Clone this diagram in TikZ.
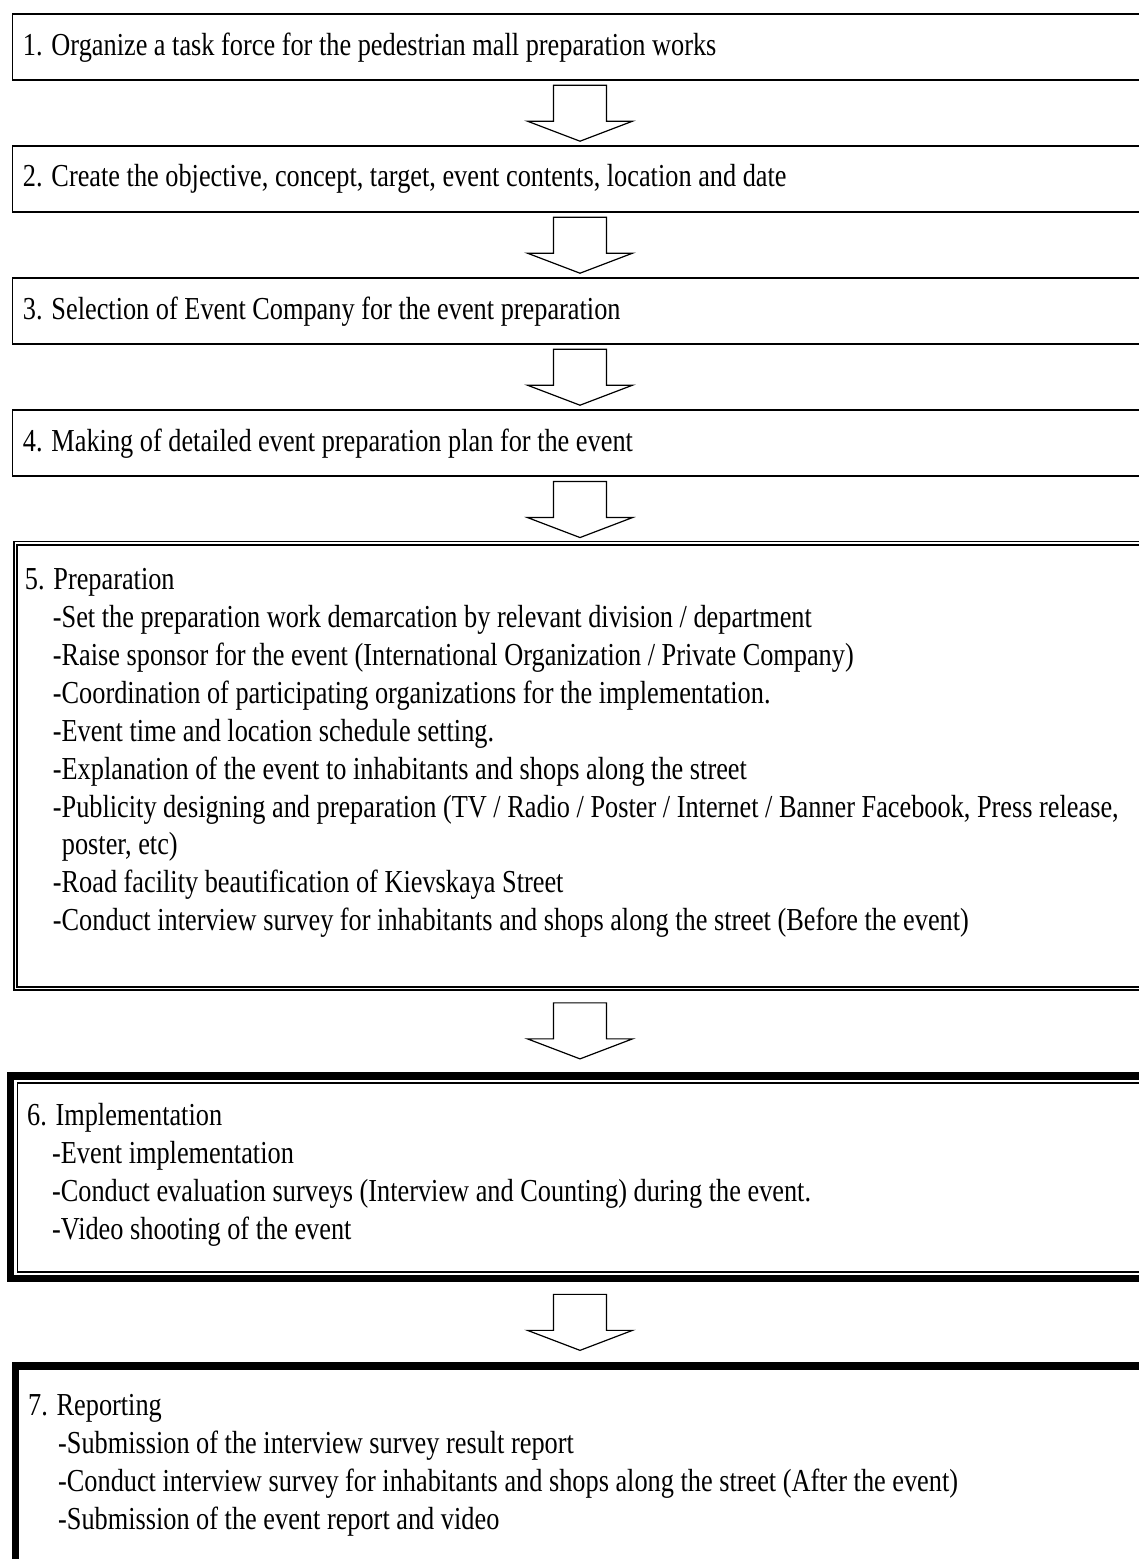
\documentclass[tikz,border=0pt]{standalone}
\usepackage{fontspec}
\setmainfont[FakeStretch=0.822]{Liberation Serif}
\usetikzlibrary{
	calc,
	positioning,
	fit
}

\newcommand{\blockarrow}[2]{%
	\coordinate (mid) at ($(#1.south)!0.5!(#2.north)$);
	\draw[arrowline] ($(mid)+(-26.5,-28)$) -- ($(mid)+(26.5,-28)$) -- ($(mid)+(26.5,8)$)
		-- ($(mid)+(52.5,8)$) -- ($(mid)+(0,28)$) -- ($(mid)+(-52.5,8)$) -- ($(mid)+(-26.5,8)$) -- cycle;}

\begin{document}
\begin{tikzpicture}[x=0.5pt, y=-0.5pt,
	every node/.style={font=\fontsize{16}{18.95}\selectfont},
	stepbox/.style={draw, line width=0.8pt, minimum width=567.5pt, minimum height=33pt,
		inner xsep=5.25pt, text width=557pt, align=flush left},
	steptext/.style={anchor=north west, inner sep=0pt, align=left},
	doubleframe/.style={draw, line width=0.9pt, double, double distance=0.7pt},
	thinframe/.style={draw, line width=0.8pt},
	thickframe/.style={draw, line width=3.75pt},
	arrowline/.style={line width=0.6pt, line join=miter}]
		\path[use as bounding box, clip] (0,0) rectangle (1139,1559);
		% single line steps
		\node[stepbox] (taskforce) at (580,47.2) {1. Organize a task force for the pedestrian mall preparation works};
		\node[stepbox] (concept) at (580,179.2) {2. Create the objective, concept, target, event contents, location and date};
		\node[stepbox] (company) at (580,311.2) {3. Selection of Event Company for the event preparation};
		\node[stepbox] (plan) at (580,443.2) {4. Making of detailed event preparation plan for the event};
		% preparation
		\node[doubleframe, minimum width=564.6pt, minimum height=222.8pt] (prep) at (580,765.8) {};
		\node[steptext] (preptext) at ($(prep.north west)+(10,26)$) {5. Preparation\\
			\hspace*{14pt}-Set the preparation work demarcation by relevant division / department\\
			\hspace*{14pt}-Raise sponsor for the event (International Organization / Private Company)\\
			\hspace*{14pt}-Coordination of participating organizations for the implementation.\\
			\hspace*{14pt}-Event time and location schedule setting.\\
			\hspace*{14pt}-Explanation of the event to inhabitants and shops along the street\\
			\hspace*{14pt}-Publicity designing and preparation (TV / Radio / Poster / Internet / Banner Facebook, Press release,\\
			\hspace*{18.5pt}poster, etc)\\
			\hspace*{14pt}-Road facility beautification of Kievskaya Street\\
			\hspace*{14pt}-Conduct interview survey for inhabitants and shops along the street (Before the event)};
		% implementation
		\node[thinframe, minimum width=562.5pt, minimum height=94.35pt] (impl) at (580,1177.35) {};
		\node[thickframe, fit=(impl), inner sep=3.1pt] (implouter) {};
		\node[steptext] (impltext) at ($(impl.north west)+(10,21)$) {6. Implementation\\
			\hspace*{12.5pt}-Event implementation\\
			\hspace*{12.5pt}-Conduct evaluation surveys (Interview and Counting) during the event.\\
			\hspace*{12.5pt}-Video shooting of the event};
		% reporting
		\node[thickframe, minimum width=564.5pt, minimum height=150pt] (report) at (580,1516) {};
		\node[steptext] (reporttext) at ($(report.north west)+(16,32)$) {7. Reporting\\
			\hspace*{15pt}-Submission of the interview survey result report\\
			\hspace*{15pt}-Conduct interview survey for inhabitants and shops along the street (After the event)\\
			\hspace*{15pt}-Submission of the event report and video};
		% arrows
		\blockarrow{taskforce}{concept}
		\blockarrow{concept}{company}
		\blockarrow{company}{plan}
		\blockarrow{plan}{prep}
		\blockarrow{prep}{implouter}
		\blockarrow{implouter}{report}
	\end{tikzpicture}
\end{document}
